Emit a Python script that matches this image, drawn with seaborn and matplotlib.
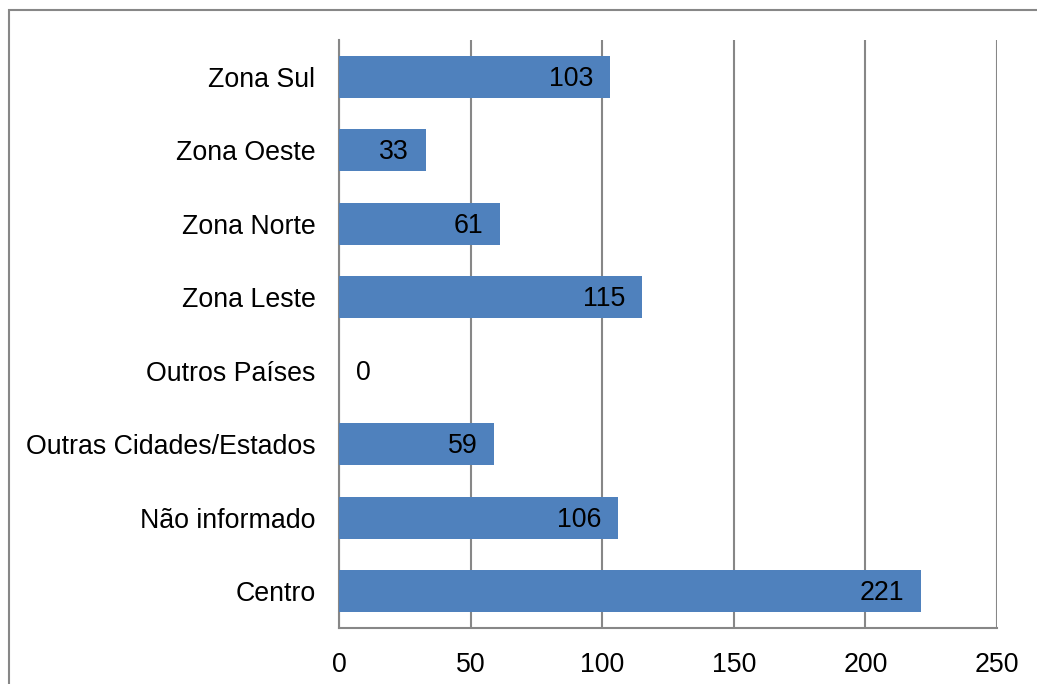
import pandas as pd
import matplotlib
matplotlib.use("Agg")
import matplotlib.pyplot as plt
import seaborn as sns
from matplotlib.patches import Rectangle

# data, top to bottom as in the chart
regioes = ["Zona Sul", "Zona Oeste", "Zona Norte", "Zona Leste", "Outros Países",
           "Outras Cidades/Estados", "Não informado", "Centro"]
totais = [103, 33, 61, 115, 0, 59, 106, 221]
x_ticks = [0, 50, 100, 150, 200, 250]

df = pd.DataFrame({"regiao": regioes, "total": totais})

sns.set_style("white")
plt.rcParams["font.family"] = ["Liberation Sans", "DejaVu Sans"]
plt.rcParams["text.color"] = "black"
plt.rcParams["xtick.color"] = "black"
plt.rcParams["ytick.color"] = "black"

cinza = "#878787"
fig = plt.figure(figsize=(10.37, 6.84), dpi=100)
ax = fig.add_axes([339 / 1037, 1 - 628 / 684, 658 / 1037, 588 / 684])

sns.barplot(data=df, x="total", y="regiao", orient="h", color="#4F81BD",
            saturation=1, width=0.57, linewidth=0, ax=ax, zorder=3)

ax.set_xlim(0, 250)
ax.set_ylim(len(regioes) - 0.5, -0.5)
ax.set_xticks(x_ticks)
ax.xaxis.grid(True, color=cinza, linewidth=1.5, zorder=0)
ax.set_axisbelow(True)
ax.set_xlabel("")
ax.set_ylabel("")
ax.tick_params(axis="x", length=0, pad=17, labelsize=19.3, labelcolor="black")
ax.tick_params(axis="y", length=0, pad=17, labelsize=19.3, labelcolor="black")

for lado in ["top", "right"]:
    ax.spines[lado].set_visible(False)
for lado in ["left", "bottom"]:
    ax.spines[lado].set_color(cinza)
    ax.spines[lado].set_linewidth(1.5)

# value labels inside bar end (zero placed just right of the axis)
for i, v in enumerate(totais):
    if v == 0:
        ax.annotate(str(v), (v, i), xytext=(12, -1.5), textcoords="offset points",
                    ha="left", va="center", fontsize=19.3, color="black", zorder=4)
    else:
        ax.annotate(str(v), (v, i), xytext=(-12, -1.5), textcoords="offset points",
                    ha="right", va="center", fontsize=19.3, color="black", zorder=4)

# outer frame of the chart area
fig.patches.append(Rectangle((9 / 1037, -0.1), 1.2, 1 - 10 / 684 + 0.1,
                             transform=fig.transFigure, fill=False,
                             edgecolor=cinza, linewidth=1.5))

fig.savefig("out.png", dpi=100)
